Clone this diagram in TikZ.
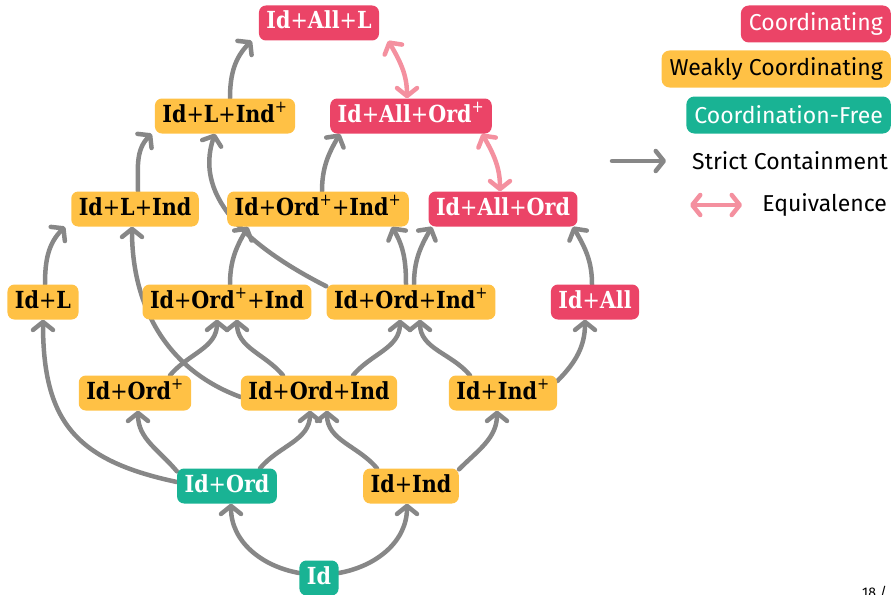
\documentclass[tikz,border=0pt]{standalone}
\usepackage{fontspec}
\usetikzlibrary{arrows.meta}
\newfontfamily\lblfont{DejaVu Serif}[FakeStretch=0.88]
\newfontfamily\legfont{Fira Sans}
\definecolor{cred}{HTML}{EB4467}
\definecolor{corange}{HTML}{FFC145}
\definecolor{cgreen}{HTML}{19B394}
\definecolor{cgray}{HTML}{878787}
\definecolor{cpink}{HTML}{F4909F}
\pgfdeclarelayer{background}
\pgfsetlayers{background,main}
% light plus signs inside the bold labels
\newcommand{\lplus}{{\mdseries+}}
\newcommand{\lsup}{\textsuperscript{\mdseries+}}
\tikzset{
  lbl/.style={rounded corners=7pt, minimum height=35pt, inner xsep=7.5pt, inner ysep=0pt,
    text height=17pt, text depth=5pt,
    font=\lblfont\bfseries\fontsize{23.5}{23.5}\selectfont},
  coord/.style={lbl, fill=cred, text=white},
  weak/.style={lbl, fill=corange, text=black},
  free/.style={lbl, fill=cgreen, text=white},
  legbox/.style={rounded corners=8pt, minimum height=37pt, inner xsep=8pt, inner ysep=0pt,
    font=\legfont\fontsize{23}{23}\selectfont},
  legtxt/.style={inner sep=0pt, font=\legfont\fontsize{23}{23}\selectfont},
  barb/.tip={Straight Barb[length=8pt,width=20pt,round]},
  contain/.style={draw=cgray, line width=4.5pt, line cap=round, -barb},
  equiv/.style={draw=cpink, line width=4.5pt, line cap=round, barb-barb},
}
\begin{document}
\begin{tikzpicture}[x=1pt,y=1pt]
\useasboundingbox (0,0) rectangle (893,-594);

% lattice nodes
\node[coord] (IdAllL)     at (319,-23)  {Id\lplus All\lplus L};
\node[coord] (IdAllOrdP)  at (411,-116) {Id\lplus All\lplus Ord\lsup};
\node[weak]  (IdLIndP)    at (225,-116) {Id\lplus L\lplus Ind\lsup};
\node[weak]  (IdLInd)     at (135,-209) {Id\lplus L\lplus Ind};
\node[weak]  (IdOrdPIndP) at (318,-209) {Id\lplus Ord\lsup\lplus Ind\lsup};
\node[coord] (IdAllOrd)   at (503,-209) {Id\lplus All\lplus Ord};
\node[weak]  (IdL)        at (43,-302)  {Id\lplus L};
\node[weak]  (IdOrdPInd)  at (227,-302) {Id\lplus Ord\lsup\lplus Ind};
\node[weak]  (IdOrdIndP)  at (411,-302) {Id\lplus Ord\lplus Ind\lsup};
\node[coord] (IdAll)      at (595,-302) {Id\lplus All};
\node[weak]  (IdOrdP)     at (135,-393) {Id\lplus Ord\lsup};
\node[weak]  (IdOrdInd)   at (319,-393) {Id\lplus Ord\lplus Ind};
\node[weak]  (IdIndP)     at (503,-393) {Id\lplus Ind\lsup};
\node[free]  (IdOrd)      at (227,-486) {Id\lplus Ord};
\node[weak]  (IdInd)      at (411,-486) {Id\lplus Ind};
\node[free]  (Id)         at (319,-578) {Id};

\begin{pgfonlayer}{background}
% strict containment
\draw[contain] ([yshift=5pt]Id.west) to[out=170,in=-90] ([xshift=4pt]IdOrd.south);
\draw[contain] ([yshift=5pt]Id.east) to[out=10,in=-90] ([xshift=-4pt]IdInd.south);
\draw[contain] ([yshift=-3pt]IdOrd.north west) to[out=130,in=-90] ([xshift=3pt]IdOrdP.south);
\draw[contain] ([yshift=4pt]IdOrd.west) to[out=168,in=-90,looseness=1.25] (IdL.south);
\draw[contain] ([xshift=33pt]IdOrd.north) to[out=50,in=-90] ([xshift=-9pt]IdOrdInd.south);
\draw[contain] ([xshift=-34pt]IdInd.north) to[out=130,in=-90] ([xshift=8pt]IdOrdInd.south);
\draw[contain] ([yshift=-1pt]IdInd.north east) to[out=45,in=-90] ([xshift=-6pt]IdIndP.south);
\draw[contain] ([xshift=35pt]IdOrdP.north) to[out=50,in=-90] ([xshift=-10pt]IdOrdPInd.south);
\draw[contain] ([xshift=-36pt]IdOrdInd.north) to[out=130,in=-90] ([xshift=10pt]IdOrdPInd.south);
\draw[contain] ([xshift=34pt]IdOrdInd.north) to[out=50,in=-90] ([xshift=-11pt]IdOrdIndP.south);
\draw[contain] ([xshift=-33pt]IdIndP.north) to[out=130,in=-90] ([xshift=9pt]IdOrdIndP.south);
\draw[contain] ([yshift=12pt]IdIndP.east) to[out=45,in=-90] ([xshift=-10pt]IdAll.south);
\draw[contain] ([yshift=-4pt]IdOrdInd.west) to[out=160,in=-90] ([xshift=-3pt]IdLInd.south);
\draw[contain] ([xshift=2pt]IdL.north) to[out=90,in=-135] ([xshift=-6pt]IdLInd.south west);
\draw[contain] ([xshift=3pt]IdLInd.north) to[out=90,in=-135] ([xshift=-3pt]IdLIndP.south west);
\draw[contain] ([xshift=3pt]IdOrdPInd.north) to[out=90,in=-120] ([xshift=-70pt]IdOrdPIndP.south);
\draw[contain] ([xshift=-5pt]IdOrdIndP.north) to[out=90,in=-60] ([xshift=74pt]IdOrdPIndP.south);
\draw[contain] ([xshift=3pt]IdOrdIndP.north) to[out=90,in=-120] ([xshift=-71pt]IdAllOrd.south);
\draw[contain] ([xshift=-3pt]IdAll.north) to[out=90,in=-60] ([xshift=70pt]IdAllOrd.south);
\draw[contain] ([yshift=-2pt]IdOrdIndP.north west) .. controls (255,-250) and (192,-200) .. ([xshift=-10pt]IdLIndP.south);
\draw[contain] ([xshift=4pt]IdOrdPIndP.north) to[out=90,in=-120] ([xshift=-71pt]IdAllOrdP.south);
\draw[contain] ([xshift=5pt]IdLIndP.north) to[out=90,in=-135] ([xshift=-7pt]IdAllL.south west);

% equivalences
\draw[equiv] ([xshift=9pt]IdAllL.south east) to[out=-60,in=90] ([xshift=-4pt]IdAllOrdP.north);
\draw[equiv] ([xshift=-10pt]IdAllOrdP.south east) to[out=-60,in=90] ([xshift=-3pt]IdAllOrd.north);
\end{pgfonlayer}

% legend
\node[legbox, fill=cred, text=white, anchor=east]     (LgC) at (891,-24)  {Coordinating};
\node[legbox, fill=corange, text=black, anchor=east]  (LgW) at (891,-69)  {Weakly Coordinating};
\node[legbox, fill=cgreen, text=white, anchor=east]   (LgF) at (891,-115) {Coordination-Free};
\node[legtxt, anchor=east] (LgS) at (888,-161) {Strict Containment};
\node[legtxt, anchor=east] (LgE) at (887,-205) {Equivalence};
\coordinate (cs1) at (612,-161);
\coordinate (cs2) at (666,-161);
\coordinate (ce1) at (690,-205);
\coordinate (ce2) at (742,-205);
\draw[contain] (cs1) -- (cs2);
\draw[equiv] (ce1) -- (ce2);

% page number, running off the lower edge
\node[legtxt, font=\legfont\fontsize{14}{14}\selectfont, anchor=north west] (pg) at (862,-586) {18 /};
\end{tikzpicture}
\end{document}
